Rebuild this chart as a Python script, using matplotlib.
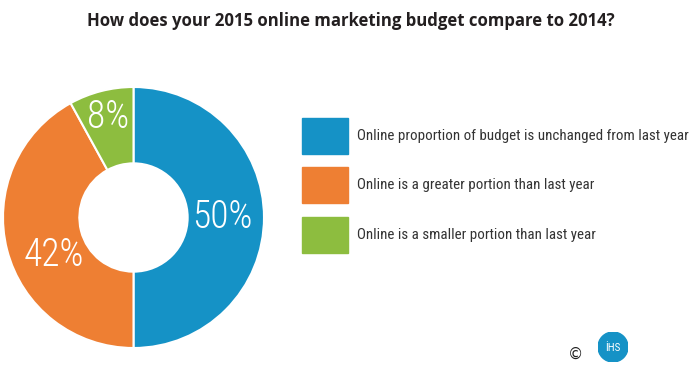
import numpy as np
import matplotlib
matplotlib.use("Agg")
import matplotlib.pyplot as plt
from matplotlib.patches import Rectangle, Circle

title = "How does your 2015 online marketing budget compare to 2014?"
labels = ["Online proportion of budget is unchanged from last year",
          "Online is a greater portion than last year",
          "Online is a smaller portion than last year"]
values = [50, 42, 8]
colors = ["#1592c6", "#ee7f33", "#8dbd3f"]

narrow = ["Roboto Condensed", "DejaVu Sans"]

W, H = 693, 380
fig = plt.figure(figsize=(W / 100, H / 100), dpi=100)

# donut
ax = fig.add_axes([3 / W, (H - 348) / H, 261 / W, 261 / H])
wedges, _ = ax.pie(values, colors=colors, startangle=90, counterclock=False,
                   radius=1.0, wedgeprops=dict(width=0.585, edgecolor="white", linewidth=1.5))
ax.set_xlim(-1, 1)
ax.set_ylim(-1, 1)
ax.set_aspect("equal")
ax.axis("off")

# label placement: radius and angle tweak for each wedge
lab_r = [0.68, 0.68, 0.79]
lab_shift = [0, 11, 0]
for w, v, r, s in zip(wedges, values, lab_r, lab_shift):
    ang = np.deg2rad((w.theta1 + w.theta2) / 2 + s)
    ax.text(r * np.cos(ang), r * np.sin(ang), f"{v}%", color="white",
            fontsize=27, family=narrow, fontweight="light", ha="center", va="center")

# title
fig.text(351 / W, 1 - 21 / H, title, ha="center", va="center", fontsize=12.1,
         fontweight="bold", family=["Open Sans", "DejaVu Sans"], color="#231f20")

# legend
box_y = [118, 167, 217]
for c, lab, y in zip(colors, labels, box_y):
    fig.patches.append(Rectangle((302 / W, 1 - (y + 36) / H), 46 / W, 36 / H,
                                 color=c, transform=fig.transFigure))
    fig.text(357 / W, 1 - (y + 18) / H, lab, ha="left", va="center",
             fontsize=10.8, family=narrow, color="#333333")

# logo
fig.text(575 / W, 1 - 354 / H, "\u00a9", ha="center", va="center", fontsize=11, color="#222222")
lax = fig.add_axes([(613 - 15) / W, 1 - (347 + 15) / H, 30 / W, 30 / H])
lax.add_patch(Circle((0.5, 0.5), 0.5, color="#1592c6"))
lax.text(0.5, 0.47, "\u0130HS", color="white", fontsize=8, ha="center", va="center",
         family=["Roboto Condensed", "DejaVu Sans"])
lax.set_xlim(0, 1)
lax.set_ylim(0, 1)
lax.set_aspect("equal")
lax.axis("off")

fig.savefig("out.png", dpi=100)
